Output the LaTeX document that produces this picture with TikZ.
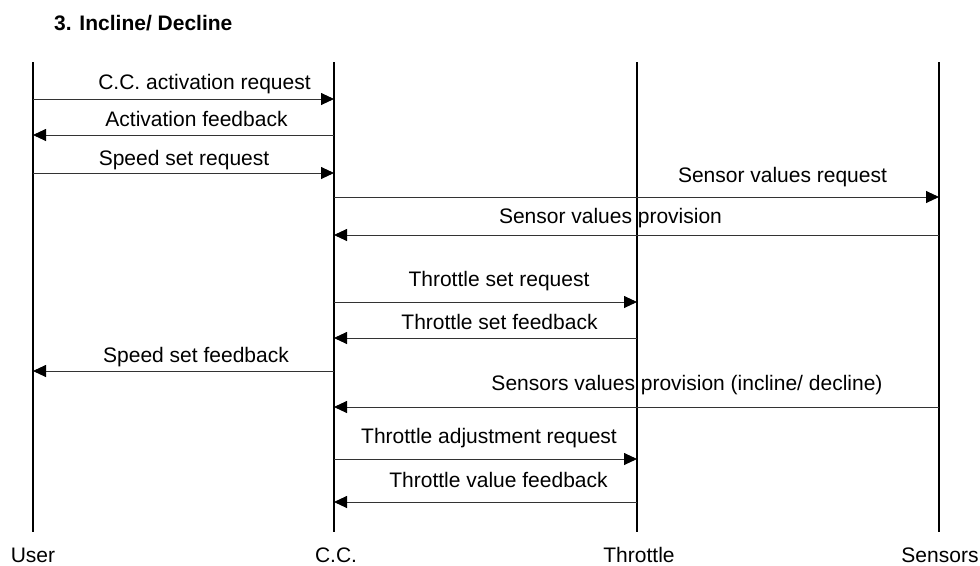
\documentclass[tikz,border=0pt]{standalone}
\usepackage{fontspec}
\setmainfont{Liberation Sans}
\usetikzlibrary{arrows.meta}
\begin{document}
\begin{tikzpicture}[x=1pt,y=-1pt,
  life/.style={line width=1.3pt, black},
  msg/.style={line width=0.9pt, black!80, -{Triangle[length=13pt,width=12pt,black]}},
  lbl/.style={anchor=base, inner sep=0pt, font=\fontsize{21}{24}\selectfont},
  actor/.style={anchor=base, inner sep=0pt, font=\fontsize{21}{24}\selectfont},
  ttl/.style={anchor=base west, inner sep=0pt, font=\fontsize{21}{24}\selectfont\bfseries}]
\useasboundingbox (0,0) rectangle (980,565);

\node[ttl] (title) at (54,30) {3. Incline/ Decline};

% lifelines
\coordinate (Ut) at (33,62);  \coordinate (Ub) at (33,532);
\coordinate (Ct) at (334,62); \coordinate (Cb) at (334,532);
\coordinate (Tt) at (637,62); \coordinate (Tb) at (637,532);
\coordinate (St) at (939,62); \coordinate (Sb) at (939,532);
\draw[life] (Ut) -- (Ub);
\draw[life] (Ct) -- (Cb);
\draw[life] (Tt) -- (Tb);
\draw[life] (St) -- (Sb);

\node[actor] (user) at (33,562) {User};
\node[actor] (cc) at (336,562) {C.C.};
\node[actor] (thr) at (639,562) {Throttle};
\node[actor] (sen) at (940,562) {Sensors};

% messages
\draw[msg] (Ut|-0,99) -- (Ct|-0,99);
\node[lbl] (l1) at (204.5,89) {C.C. activation request};
\draw[msg] (Ct|-0,135) -- (Ut|-0,135);
\node[lbl] (l2) at (196.5,126) {Activation feedback};
\draw[msg] (Ut|-0,173) -- (Ct|-0,173);
\node[lbl] (l3) at (184,165) {Speed set request};
\draw[msg] (Ct|-0,197) -- (St|-0,197);
\node[lbl] (l4) at (782.5,182) {Sensor values request};
\draw[msg] (St|-0,235) -- (Ct|-0,235);
\node[lbl] (l5) at (610.5,223) {Sensor values provision};
\draw[msg] (Ct|-0,302) -- (Tt|-0,302);
\node[lbl] (l6) at (499,286) {Throttle set request};
\draw[msg] (Tt|-0,338) -- (Ct|-0,338);
\node[lbl] (l7) at (499.5,329) {Throttle set feedback};
\draw[msg] (Ct|-0,371) -- (Ut|-0,371);
\node[lbl] (l8) at (196,362) {Speed set feedback};
\draw[msg] (St|-0,407) -- (Ct|-0,407);
\node[lbl] (l9) at (687,390) {Sensors values provision (incline/ decline)};
\draw[msg] (Ct|-0,459) -- (Tt|-0,459);
\node[lbl] (l10) at (489,443) {Throttle adjustment request};
\draw[msg] (Tt|-0,502) -- (Ct|-0,502);
\node[lbl] (l11) at (498.5,487) {Throttle value feedback};
\end{tikzpicture}
\end{document}
